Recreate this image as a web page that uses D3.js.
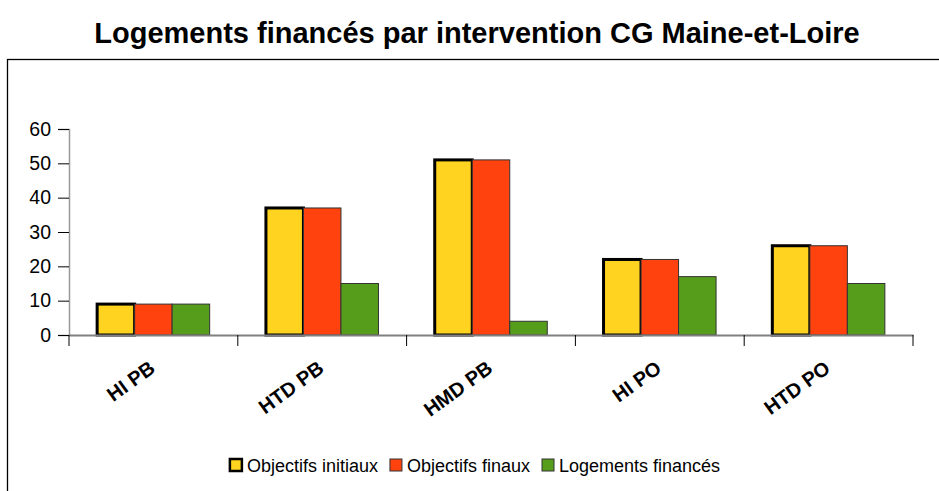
<!DOCTYPE html>
<html>
<head>
<meta charset="utf-8">
<script src="https://cdn.jsdelivr.net/npm/d3@7/dist/d3.min.js"></script>
<style>
  body { margin: 0; background: #fff; }
  svg text { font-family: "Liberation Sans", Arial, sans-serif; }
</style>
</head>
<body>
<div id="chart"></div>
<script>
// data
var categories = ['HI PB', 'HTD PB', 'HMD PB', 'HI PO', 'HTD PO'];
var seriesNames = ['Objectifs initiaux', 'Objectifs finaux', 'Logements financés'];
var objectifsInitiaux = [9, 37, 51, 22, 26];
var objectifsFinaux = [9, 37, 51, 22, 26];
var logementsFinances = [9, 15, 4, 17, 15];
var yTicks = [0, 10, 20, 30, 40, 50, 60];
var colors = ['#ffd320', '#ff420e', '#579d1c'];

var seriesValues = [objectifsInitiaux, objectifsFinaux, logementsFinances];

var W = 939, H = 491;
var svg = d3.select('#chart').append('svg')
    .attr('width', W)
    .attr('height', H);

// frame around the chart area (runs off the right and bottom)
svg.append('rect')
    .attr('x', 7.5).attr('y', 59.5)
    .attr('width', 940).attr('height', 440)
    .attr('fill', 'none')
    .attr('stroke', '#000')
    .attr('stroke-width', 1.3);

// title
svg.append('text')
    .attr('x', 477).attr('y', 43)
    .attr('text-anchor', 'middle')
    .style('font-size', '29px')
    .style('font-weight', 'bold')
    .text('Logements financés par intervention CG Maine-et-Loire');

var x = d3.scaleBand().domain(categories).range([69, 913]);
var xs = d3.scaleBand().domain(d3.range(seriesNames.length))
    .range([x.bandwidth() / 6, x.bandwidth() * 5 / 6]);
var y = d3.scaleLinear().domain([0, 60]).range([335, 129]);

// y axis
var yAxis = svg.append('g')
    .attr('transform', 'translate(69,0)')
    .call(d3.axisLeft(y).tickValues(yTicks).tickSize(11).tickPadding(7));
yAxis.select('.domain').attr('stroke', '#999').attr('stroke-width', 1.5);
yAxis.selectAll('.tick line').attr('stroke', '#000');
yAxis.selectAll('.tick text').style('font-size', '19.5px').attr('fill', '#000');

// bars
var rows = categories.map(function(c, i) {
  return { cat: c, vals: seriesValues.map(function(s) { return s[i]; }) };
});
var groups = svg.selectAll('g.grp').data(rows).enter().append('g')
    .attr('class', 'grp')
    .attr('transform', function(d) { return 'translate(' + x(d.cat) + ',0)'; });
groups.selectAll('rect').data(function(d) { return d.vals; }).enter().append('rect')
    .attr('x', function(d, j) { return xs(j); })
    .attr('y', function(d) { return y(d); })
    .attr('width', xs.bandwidth())
    .attr('height', function(d) { return y(0) - y(d); })
    .attr('fill', function(d, j) { return colors[j]; })
    .attr('stroke', function(d, j) { return j === 0 ? '#000' : '#333'; })
    .attr('stroke-width', function(d, j) { return j === 0 ? 3 : 1; });

// x axis: baseline, separator ticks, rotated labels
var xAxis = svg.append('g')
    .attr('transform', 'translate(0,' + y(0) + ')')
    .call(d3.axisBottom(x).tickSize(0).tickPadding(0));
xAxis.select('.domain').attr('stroke', '#808080').attr('stroke-width', 2);
xAxis.selectAll('.tick text')
    .attr('text-anchor', 'end')
    .attr('dy', 0)
    .attr('transform', 'translate(3,36) rotate(-36)')
    .style('font-size', '20px')
    .style('font-weight', 'bold')
    .attr('fill', '#000');
var seps = categories.map(function(c) { return x(c); }).concat([x.range()[1]]);
xAxis.selectAll('line.sep').data(seps).enter().append('line')
    .attr('class', 'sep')
    .attr('x1', function(d) { return d; }).attr('x2', function(d) { return d; })
    .attr('y1', 0).attr('y2', 11)
    .attr('stroke', '#000');

// legend
var legend = svg.append('g');
var items = legend.selectAll('g').data(seriesNames).enter().append('g');
items.append('rect')
    .attr('y', 459).attr('width', 12).attr('height', 12)
    .attr('fill', function(d, i) { return colors[i]; })
    .attr('stroke', function(d, i) { return i === 0 ? '#000' : '#333'; })
    .attr('stroke-width', function(d, i) { return i === 0 ? 2.5 : 1; });
items.append('text')
    .attr('x', 17).attr('y', 471.5)
    .style('font-size', '18px')
    .attr('fill', '#000')
    .text(function(d) { return d; });
var pos = 0;
items.each(function() {
  var g = d3.select(this);
  g.attr('transform', 'translate(' + pos + ',0)');
  pos += 17 + g.select('text').node().getComputedTextLength() + 12;
});
legend.attr('transform', 'translate(' + (475 - (pos - 12) / 2) + ',0)');
</script>
</body>
</html>
